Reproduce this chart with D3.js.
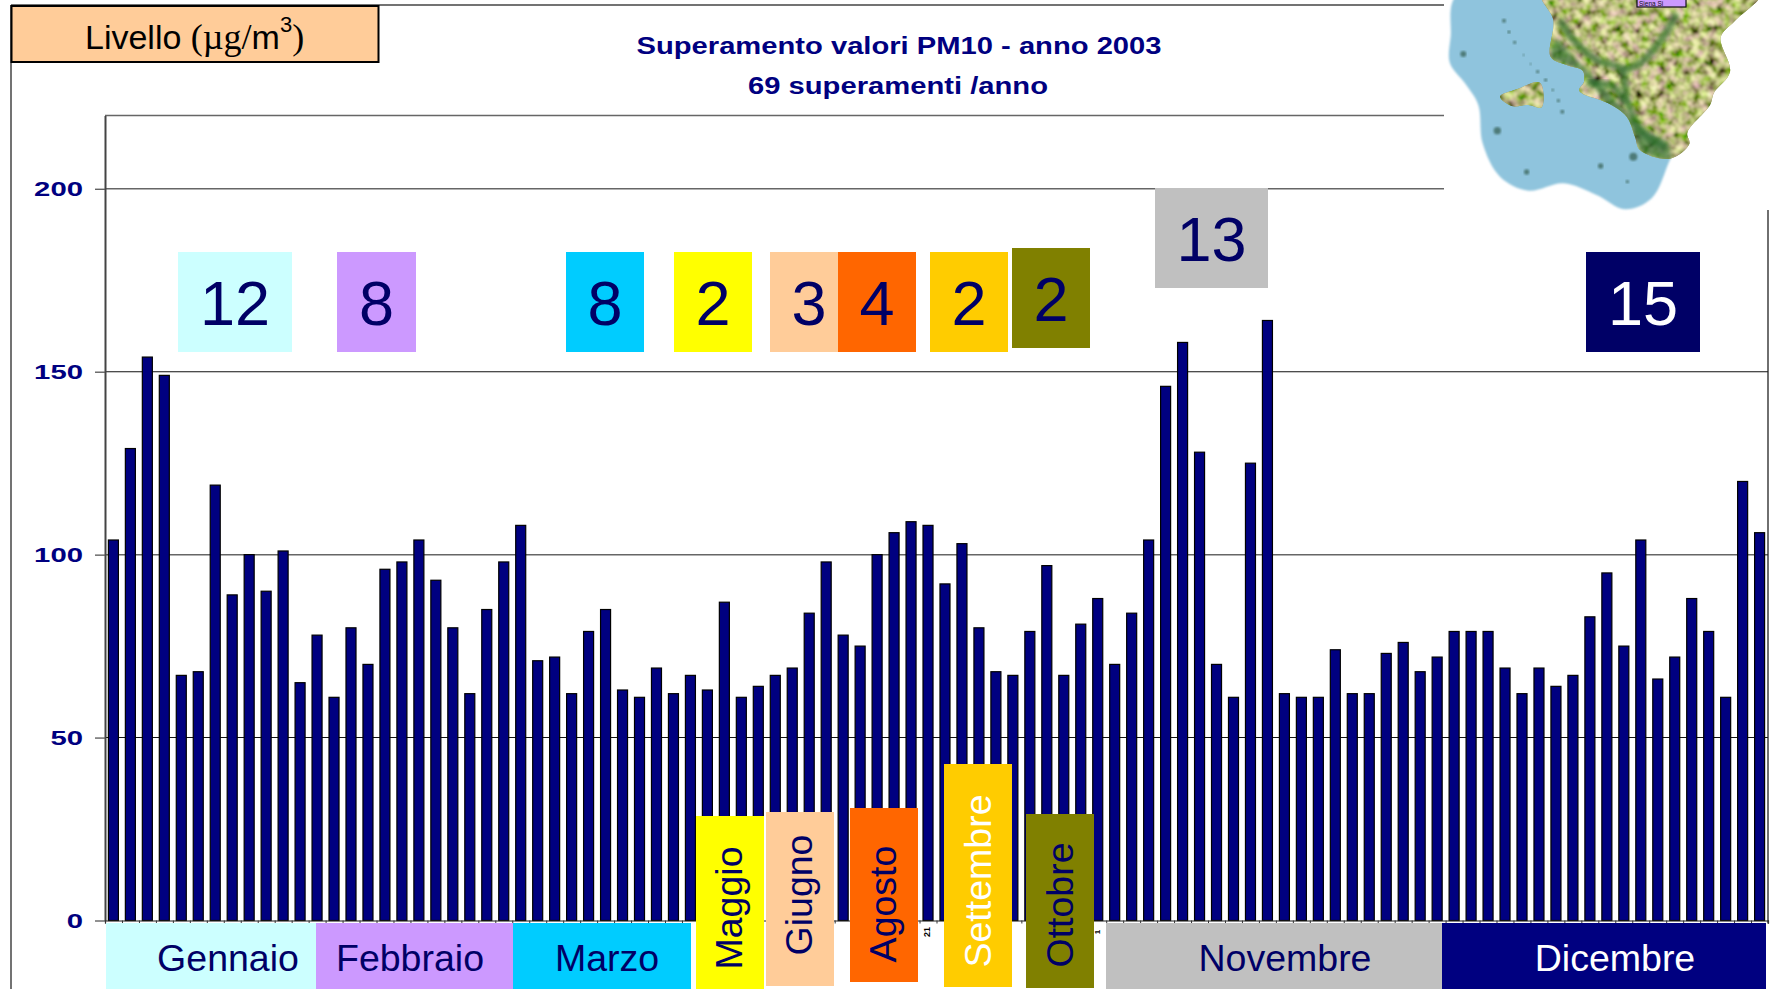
<!DOCTYPE html>
<html>
<head>
<meta charset="utf-8">
<script src="https://cdn.jsdelivr.net/npm/d3@7"></script>
<style>
  html, body { margin: 0; padding: 0; background: #fff; overflow: hidden; }
  text { font-family: "Liberation Sans", Arial, sans-serif; }
</style>
</head>
<body>
<div id="chart"></div>
<script>
(function() {
    "use strict";

    // daily values above the limit
    const values = [104, 129, 154, 149, 67, 68, 119, 89, 100, 90, 101, 65, 78, 61, 80, 70, 96, 98, 104, 93,
        80, 62, 85, 98, 108, 71, 72, 62, 79, 85, 63, 61, 69, 62, 67, 63, 87, 61, 64, 67,
        69, 84, 98, 78, 75, 100, 106, 109, 108, 92, 103, 80, 68, 67, 79, 97, 67, 81, 88, 70,
        84, 104, 146, 158, 128, 70, 61, 125, 164, 62, 61, 61, 74, 62, 62, 73, 76, 68, 72, 79,
        79, 79, 69, 62, 69, 64, 67, 83, 95, 75, 104, 66, 72, 88, 79, 61, 120, 106];
    const yTicks = [0, 50, 100, 150, 200];

    const titleLines = ["Superamento valori PM10 - anno 2003", "69 superamenti /anno"];

    // count boxes
    const countLabels = ["12", "8", "8", "2", "3", "4", "2", "2", "13", "15"];
    const countFills = ["#CCFFFF", "#CC99FF", "#00CCFF", "#FFFF00", "#FFCC99", "#FF6600", "#FFCC00", "#808000", "#C0C0C0", "#000066"];
    const countInk = ["#000066", "#000066", "#000066", "#000066", "#000066", "#000066", "#000066", "#000066", "#000066", "#fff"];
    const countX = [178, 337, 566, 674, 770, 838, 930, 1012, 1155, 1586];
    const countW = [114, 79, 78, 78, 78, 78, 78, 78, 113, 114];
    const countY = [252, 252, 252, 252, 252, 252, 252, 248, 188, 252];

    // month strips under the axis
    const flatMonths = ["Gennaio", "Febbraio", "Marzo", "Novembre", "Dicembre"];
    const flatFills = ["#CCFFFF", "#CC99FF", "#00CCFF", "#C0C0C0", "#000080"];
    const flatInk = ["#000066", "#000066", "#000066", "#000066", "#fff"];
    const flatX0 = [106, 316, 513, 1106, 1442];
    const flatX1 = [316, 513, 691, 1442, 1766];
    const flatTextX = [228, 410, 607, 1285, 1615];

    const upMonths = ["Maggio", "Giugno", "Agosto", "Settembre", "Ottobre"];
    const upFills = ["#FFFF00", "#FFCC99", "#FF6600", "#FFCC00", "#808000"];
    const upInk = ["#000066", "#000066", "#000066", "#fff", "#000066"];
    const upX = [696, 766, 850, 944, 1026];
    const upY0 = [816, 812, 808, 764, 814];
    const upY1 = [989, 986, 982, 987, 988];
    const upBase = [742, 812, 896, 991, 1073];
    const upMid = [908, 895, 904, 881, 905];

    const width = 1775, height = 989;
    const svg = d3.select("#chart").append("svg").attr("width", width).attr("height", height);

    const plotLeft = 105, plotRight = 1768, plotTop = 115.6, plotBottom = 920.5;

    const x = d3.scaleBand().domain(d3.range(values.length)).range([plotLeft, plotRight]).paddingInner(0.41).paddingOuter(0.2);
    const y = d3.scaleLinear().domain([0, 220]).range([plotBottom, plotTop]);

    // outer frame, only top and left show
    svg.append("line").attr("x1", 11).attr("x2", 1450).attr("y1", 5).attr("y2", 5).attr("stroke", "#444").attr("stroke-width", 1.5);
    svg.append("line").attr("x1", 11).attr("x2", 11).attr("y1", 5).attr("y2", height).attr("stroke", "#444").attr("stroke-width", 1.5);

    // plot top edge and grid
    svg.append("line").attr("x1", plotLeft).attr("x2", plotRight).attr("y1", plotTop).attr("y2", plotTop).attr("stroke", "#666").attr("stroke-width", 1.5);
    svg.append("g").selectAll("line")
        .data(yTicks.slice(1))
        .enter().append("line")
        .attr("x1", plotLeft).attr("x2", plotRight)
        .attr("y1", d => y(d)).attr("y2", d => y(d))
        .attr("stroke", d => d % 100 === 0 ? "#666" : "#111")
        .attr("stroke-width", d => d % 100 === 0 ? 1.5 : 1.1);

    // y axis
    const yAxis = svg.append("g").attr("transform", "translate(" + plotLeft + ",0)")
        .call(d3.axisLeft(y).tickValues(yTicks).tickSize(10).tickSizeOuter(0).tickPadding(12));
    yAxis.select(".domain").attr("stroke", "#444").attr("stroke-width", 2);
    yAxis.selectAll(".tick line").attr("stroke", "#555").attr("stroke-width", 1.3);
    yAxis.selectAll(".tick text")
        .attr("fill", "#000080")
        .attr("font-weight", "bold")
        .attr("font-size", 21)
        .attr("font-family", "Liberation Sans")
        .attr("textLength", d => String(d).length * 16.3)
        .attr("lengthAdjust", "spacingAndGlyphs");

    // right edge of plot
    svg.append("line").attr("x1", plotRight).attr("x2", plotRight).attr("y1", 210).attr("y2", plotBottom + 3).attr("stroke", "#222").attr("stroke-width", 1.3);

    // bars
    svg.append("g").selectAll("rect")
        .data(values)
        .enter().append("rect")
        .attr("x", (d, i) => x(i))
        .attr("y", d => y(d))
        .attr("width", x.bandwidth())
        .attr("height", d => y(0) - y(d))
        .attr("fill", "#000080")
        .attr("stroke", "#000")
        .attr("stroke-width", 1.2);

    // baseline with little ticks between the bars
    const xAxis = svg.append("g").attr("transform", "translate(0," + plotBottom + ")")
        .call(d3.axisBottom(d3.scaleLinear().domain([0, values.length]).range([plotLeft, plotRight]))
            .tickValues(d3.range(values.length + 1)).tickSize(3).tickFormat(""));
    xAxis.select(".domain").attr("stroke", "#222").attr("stroke-width", 1.2);
    xAxis.selectAll(".tick line").attr("stroke", "#333");

    // day labels that peek out between the boxes
    svg.append("text").attr("transform", "translate(930,932) rotate(-90)").attr("font-size", 9).attr("font-weight", "bold").attr("text-anchor", "middle").text("21");
    svg.append("text").attr("transform", "translate(1100,932) rotate(-90)").attr("font-size", 8).attr("font-weight", "bold").attr("text-anchor", "middle").text("1");

    drawMap();

    // title
    svg.append("g").selectAll("text")
        .data(titleLines)
        .enter().append("text")
        .attr("x", (d, i) => i === 0 ? 899 : 898)
        .attr("y", (d, i) => i === 0 ? 54 : 94)
        .attr("text-anchor", "middle")
        .attr("font-size", 23)
        .attr("font-weight", "bold")
        .attr("fill", "#000080")
        .attr("textLength", (d, i) => i === 0 ? 525 : 300)
        .attr("lengthAdjust", "spacingAndGlyphs")
        .text(d => d);

    // unit box
    svg.append("rect").attr("x", 11.5).attr("y", 6).attr("width", 367).attr("height", 56)
        .attr("fill", "#FFCC99").attr("stroke", "#000").attr("stroke-width", 2);
    const unit = svg.append("text").attr("x", 85).attr("y", 49).attr("font-size", 34).attr("fill", "#000");
    unit.append("tspan").text("Livello ");
    unit.append("tspan").attr("font-family", "Liberation Serif").attr("font-size", 36).text("(\u00b5g/");
    unit.append("tspan").text("m");
    unit.append("tspan").attr("font-size", 22).attr("dy", -17).text("3");
    unit.append("tspan").attr("font-family", "Liberation Serif").attr("font-size", 36).attr("dy", 17).text(")");

    // count boxes
    const counts = svg.append("g").selectAll("g")
        .data(countLabels)
        .enter().append("g");
    counts.append("rect")
        .attr("x", (d, i) => countX[i])
        .attr("y", (d, i) => countY[i])
        .attr("width", (d, i) => countW[i])
        .attr("height", 100)
        .attr("fill", (d, i) => countFills[i]);
    counts.append("text")
        .attr("x", (d, i) => countX[i] + countW[i] / 2)
        .attr("y", (d, i) => countY[i] + 73)
        .attr("text-anchor", "middle")
        .attr("font-size", 63)
        .attr("fill", (d, i) => countInk[i])
        .text(d => d);

    // flat month strips
    const flat = svg.append("g").selectAll("g")
        .data(flatMonths)
        .enter().append("g");
    flat.append("rect")
        .attr("x", (d, i) => flatX0[i])
        .attr("y", 923)
        .attr("width", (d, i) => flatX1[i] - flatX0[i])
        .attr("height", height - 923)
        .attr("fill", (d, i) => flatFills[i]);
    flat.append("text")
        .attr("x", (d, i) => flatTextX[i])
        .attr("y", 971)
        .attr("text-anchor", "middle")
        .attr("font-size", 37.5)
        .attr("fill", (d, i) => flatInk[i])
        .text(d => d);

    // upright month boxes
    const upright = svg.append("g").selectAll("g")
        .data(upMonths)
        .enter().append("g");
    upright.append("rect")
        .attr("x", (d, i) => upX[i])
        .attr("y", (d, i) => upY0[i])
        .attr("width", 68)
        .attr("height", (d, i) => upY1[i] - upY0[i])
        .attr("fill", (d, i) => upFills[i]);
    upright.append("text")
        .attr("transform", (d, i) => "translate(" + upBase[i] + "," + upMid[i] + ") rotate(-90)")
        .attr("text-anchor", "middle")
        .attr("font-size", 37.5)
        .attr("fill", (d, i) => upInk[i])
        .text(d => d);

    //##############################################

    // the little relief map in the top right corner, a rough hand drawing
    function drawMap() {
        const defs = svg.append("defs");
        const relief = defs.append("filter").attr("id", "relief")
            .attr("x", 0).attr("y", 0).attr("width", "100%").attr("height", "100%");
        relief.append("feTurbulence").attr("type", "fractalNoise").attr("baseFrequency", 0.12).attr("numOctaves", 3).attr("seed", 7);
        relief.append("feColorMatrix").attr("type", "matrix")
            .attr("values", "1.9 0.4 0 0 -0.62  1.3 1.0 0 0 -0.62  1.3 0 0 0 -0.42  0 0 0 0 1");
        relief.append("feGaussianBlur").attr("stdDeviation", 0.8);

        const soft = defs.append("filter").attr("id", "soft");
        soft.append("feGaussianBlur").attr("stdDeviation", 0.8);

        const soft2 = defs.append("filter").attr("id", "soft2")
            .attr("x", "-20%").attr("y", "-20%").attr("width", "140%").attr("height", "140%");
        soft2.append("feGaussianBlur").attr("stdDeviation", 2);

        // zoom-crop coordinates, scaled to the page
        const px = p => [1400 + p[0] / 3, p[1] / 3];
        const closed = d3.line().x(d => d[0]).y(d => d[1]).curve(d3.curveCatmullRomClosed.alpha(0.5));
        const open = d3.line().x(d => d[0]).y(d => d[1]).curve(d3.curveCatmullRom.alpha(0.5));

        const sea = [[175, -20], [152, 110], [150, 190], [195, 250], [235, 315], [248, 430], [300, 530], [385, 572], [490, 550], [590, 585], [675, 628], [755, 595], [812, 475], [860, 380], [880, 200], [880, 60], [900, -20]];
        const land = [[425, -20], [460, 60], [452, 170], [500, 195], [548, 212], [552, 245], [538, 272], [625, 310], [680, 350], [705, 410], [720, 450], [810, 476], [868, 432], [862, 398], [930, 315], [942, 278], [990, 215], [962, 112], [1005, 62], [1082, -20]];
        const elba = [[300, 290], [350, 268], [420, 248], [425, 322], [385, 315], [335, 318]];
        const isles = [[312, 62, 6], [327, 96, 5], [344, 127, 5], [371, 165, 3], [392, 192, 3], [413, 215, 5], [437, 240, 5], [458, 270, 4], [475, 302, 5], [487, 335, 6], [292, 392, 11], [190, 162, 9], [380, 516, 8], [602, 498, 8], [682, 545, 5], [700, 470, 12]];
        const rivers = [[[480, 60], [520, 120], [590, 180], [665, 210], [680, 300], [730, 400], [800, 440]], [[830, 40], [790, 110], [720, 190], [665, 210]], [[560, 250], [640, 260], [675, 310]]];
        const smudges = [[585, 155, 30], [860, 95, 40], [940, 135, 35], [858, 200, 22], [590, 268, 40], [460, 198, 28], [670, 305, 25], [985, 115, 20], [730, 440, 20]];

        // white patch hides the grid under the map
        svg.append("rect").attr("x", 1444).attr("y", 0).attr("width", width - 1444).attr("height", 209).attr("fill", "#fff");

        svg.append("path").attr("d", closed(sea.map(px))).attr("fill", "#8FC4DD").attr("filter", "url(#soft)");

        const clipLand = defs.append("clipPath").attr("id", "land-clip");
        clipLand.append("path").attr("d", closed(land.map(px)));
        clipLand.append("path").attr("d", closed(elba.map(px)));

        const terrain = svg.append("g").attr("clip-path", "url(#land-clip)");
        terrain.append("rect").attr("x", 1490).attr("y", -10).attr("width", 285).attr("height", 190).attr("fill", "#7d8a45");
        terrain.append("rect").attr("x", 1490).attr("y", -10).attr("width", 285).attr("height", 190)
            .attr("filter", "url(#relief)").attr("opacity", 0.9);
        terrain.append("g").selectAll("path")
            .data(rivers)
            .enter().append("path")
            .attr("d", d => open(d.map(px)))
            .attr("fill", "none")
            .attr("stroke", "#2a6a2a")
            .attr("stroke-width", 7)
            .attr("opacity", 0.7)
            .attr("filter", "url(#soft2)");
        terrain.append("path")
            .attr("d", closed([[452, 170], [540, 215], [620, 310], [700, 400], [720, 452], [810, 476], [800, 430], [720, 380], [620, 270], [520, 170], [470, 120]].map(px)))
            .attr("fill", "#2a6b33")
            .attr("opacity", 0.65)
            .attr("filter", "url(#soft2)");

        svg.append("g").selectAll("circle")
            .data(isles)
            .enter().append("circle")
            .attr("cx", d => px(d)[0]).attr("cy", d => px(d)[1]).attr("r", d => d[2] / 3)
            .attr("fill", "#4d7a78").attr("filter", "url(#soft)");

        // dark blurs where the tiny place names sit
        svg.append("g").selectAll("line")
            .data(smudges)
            .enter().append("line")
            .attr("x1", d => px(d)[0] - d[2] / 3).attr("x2", d => px(d)[0] + d[2] / 3)
            .attr("y1", d => px(d)[1]).attr("y2", d => px(d)[1])
            .attr("stroke", "#2b2a24").attr("stroke-width", 2.2).attr("opacity", 0.75)
            .attr("filter", "url(#soft)");

        // purple city label at the top edge
        svg.append("rect").attr("x", 1637).attr("y", -3).attr("width", 49).attr("height", 10)
            .attr("fill", "#CC99FF").attr("stroke", "#111").attr("stroke-width", 1.2);
        svg.append("text").attr("x", 1639).attr("y", 5.5).attr("font-size", 6.5).attr("fill", "#111").text("Siena Si");
    }

})();
</script>
</body>
</html>
